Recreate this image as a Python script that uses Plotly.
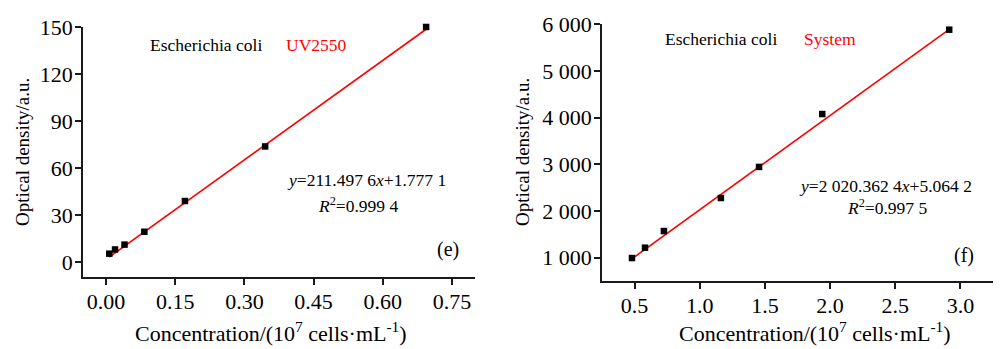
import plotly.graph_objects as go

# ---------- data ----------
# panel (e) UV2550
e_conc = [0.007, 0.0195, 0.040, 0.083, 0.171, 0.345, 0.694]
e_od = [5.4, 8.1, 11.2, 19.4, 39.0, 73.8, 150.0]
e_slope, e_intercept = 211.4976, 1.7771

# panel (f) System
f_conc = [0.48, 0.58, 0.725, 1.162, 1.455, 1.94, 2.914]
f_od = [990, 1212, 1569, 2277, 2943, 4076, 5884]
f_slope, f_intercept = 2020.3624, 5.0642

e_xticks = [0.0, 0.15, 0.30, 0.45, 0.60, 0.75]
e_xticktext = ["0.00", "0.15", "0.30", "0.45", "0.60", "0.75"]
e_yticks = [0, 30, 60, 90, 120, 150]
e_yticktext = ["0", "30", "60", "90", "120", "150"]

f_xticks = [0.5, 1.0, 1.5, 2.0, 2.5, 3.0]
f_xticktext = ["0.5", "1.0", "1.5", "2.0", "2.5", "3.0"]
f_yticks = [1000, 2000, 3000, 4000, 5000, 6000]
f_yticktext = ["1 000", "2 000", "3 000", "4 000", "5 000", "6 000"]

FONT = "Liberation Serif"
AXC = "#1a1a1a"

fig = go.Figure()

def fit_line(xs, slope, intercept):
    x0, x1 = min(xs), max(xs)
    return [x0, x1], [slope * x0 + intercept, slope * x1 + intercept]

lx, ly = fit_line(e_conc, e_slope, e_intercept)
fig.add_trace(go.Scatter(x=lx, y=ly, mode="lines", line=dict(color="#ff0000", width=1.6),
                         xaxis="x", yaxis="y", showlegend=False, cliponaxis=False))
fig.add_trace(go.Scatter(x=e_conc, y=e_od, mode="markers",
                         marker=dict(symbol="square", size=6.5, color="black"),
                         xaxis="x", yaxis="y", showlegend=False, cliponaxis=False))

lx, ly = fit_line(f_conc, f_slope, f_intercept)
fig.add_trace(go.Scatter(x=lx, y=ly, mode="lines", line=dict(color="#ff0000", width=1.6),
                         xaxis="x2", yaxis="y2", showlegend=False, cliponaxis=False))
fig.add_trace(go.Scatter(x=f_conc, y=f_od, mode="markers",
                         marker=dict(symbol="square", size=6.5, color="black"),
                         xaxis="x2", yaxis="y2", showlegend=False, cliponaxis=False))

axis_common = dict(showgrid=False, zeroline=False, showline=True, linecolor=AXC, linewidth=1.5,
                   ticks="outside", ticklen=6, tickwidth=1.5, tickcolor=AXC,
                   tickfont=dict(family=FONT, size=22, color="black"), mirror=False,
                   ticklabelstandoff=-2)

fig.update_layout(
    width=1000, height=349,
    margin=dict(l=0, r=0, t=0, b=0),
    paper_bgcolor="white", plot_bgcolor="white",
    font=dict(family=FONT),
    xaxis=dict(domain=[0.083, 0.475], range=[-0.05, 0.80], anchor="y",
               tickvals=e_xticks, ticktext=e_xticktext, **axis_common),
    yaxis=dict(domain=[1 - 274.5 / 349, 1 - 15.5 / 349], range=[-9.5, 150], anchor="x",
               tickvals=e_yticks, ticktext=e_yticktext, **axis_common),
    xaxis2=dict(domain=[0.602, 0.993], range=[0.25, 3.25], anchor="y2",
                tickvals=f_xticks, ticktext=f_xticktext, **axis_common),
    yaxis2=dict(domain=[1 - 278.5 / 349, 1 - 12.7 / 349], range=[500, 6000], anchor="x2",
                tickvals=f_yticks, ticktext=f_yticktext, **axis_common),
)

def ann(text, x, y, size, color="black", angle=0):
    fig.add_annotation(text=text, x=x / 1000, y=1 - y / 349, xref="paper", yref="paper",
                       xanchor="center", yanchor="middle", showarrow=False, textangle=angle,
                       font=dict(family=FONT, size=size, color=color))

# panel (e) labels
ann("Escherichia coli", 206, 34, 17.5)
ann("UV2550", 316, 34, 17.5, "#ff0000")
ann("<i>y</i>=211.497 6<i>x</i>+1.777 1", 366, 174, 17.5)
ann("<i>R</i><sup>2</sup>=0.999 4", 358, 200, 17.5)
ann("(e)", 448, 246, 20)
ann("Concentration/(10<sup>7</sup> cells·mL<sup>-1</sup>)", 271, 331, 22)
ann("Optical density/a.u.", 22, 145, 19, angle=-90)

# panel (f) labels
ann("Escherichia coli", 721, 28, 17.5)
ann("System", 830, 28, 17.5, "#ff0000")
ann("<i>y</i>=2 020.362 4<i>x</i>+5.064 2", 885, 180, 17.5)
ann("<i>R</i><sup>2</sup>=0.997 5", 887, 202, 17.5)
ann("(f)", 964, 252, 20)
ann("Concentration/(10<sup>7</sup> cells·mL<sup>-1</sup>)", 815, 331, 22)
ann("Optical density/a.u.", 522, 145, 19, angle=-90)

fig.write_html("out.html")
